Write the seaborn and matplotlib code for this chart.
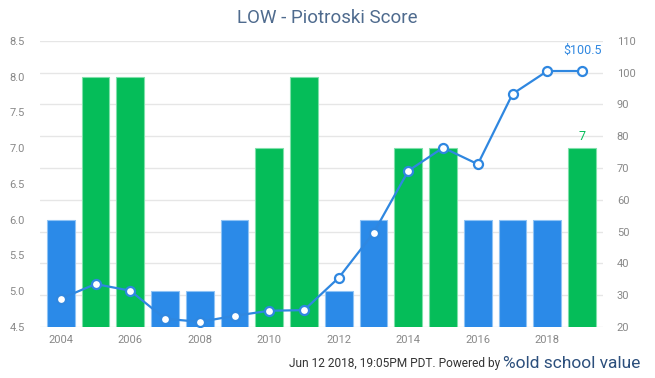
import numpy as np
import pandas as pd
import matplotlib
matplotlib.use('Agg')
import matplotlib.pyplot as plt
import seaborn as sns

# Data
years = list(range(2004, 2020))
scores = [6, 8, 8, 5, 5, 6, 7, 8, 5, 6, 7, 7, 6, 6, 6, 7]
prices = [28.9, 33.5, 31.4, 22.6, 21.6, 23.5, 25.1, 25.3,
          35.5, 49.6, 69.1, 76.4, 71.2, 93.3, 100.5, 100.5]
xtick_labels = [str(y) if y % 2 == 0 else '' for y in years]

blue = '#2b8ae8'
green = '#05bd59'
line_blue = '#2f87e0'
grey = '#888888'

sns.set_theme(style='white')
plt.rcParams['font.family'] = ['Roboto', 'DejaVu Sans']

data = pd.DataFrame({'Year': [str(y) for y in years], 'Score': scores, 'Price': prices})
bar_colors = [green if s >= 7 else blue for s in scores]

fig = plt.figure(figsize=(6.55, 3.78), dpi=100)
ax = fig.add_axes([0.061, 0.135, 0.8595, 0.757])

# background axis only for the grid (right scale)
ax_bg = ax.twinx()
ax_bg.set_ylim(20, 110)
ax_bg.set_yticks(range(20, 111, 10))
ax_bg.yaxis.grid(True, color='#e6e6e6', linewidth=1)
ax_bg.tick_params(right=False, labelright=False)
for s in ax_bg.spines.values():
    s.set_visible(False)

# bars
sns.barplot(data=data, x='Year', y='Score', hue='Year', palette=bar_colors,
            legend=False, width=0.8, ax=ax, saturation=1, linewidth=0.8)
for patch, c in zip(ax.patches, bar_colors):
    patch.set_edgecolor('#8fc3f5' if c == blue else '#7fe0aa')
ax.set_ylim(4.5, 8.5)
ax.set_yticks(np.arange(4.5, 8.51, 0.5))
ax.set_yticklabels([f'{v:.1f}' for v in np.arange(4.5, 8.51, 0.5)])
ax.set_xlim(-0.6, 15.6)
ax.set_xticks(range(len(years)))
ax.set_xticklabels(xtick_labels)
ax.set_xlabel('')
ax.set_ylabel('')
ax.tick_params(axis='both', length=0, labelsize=8, colors=grey, pad=6)
ax.tick_params(axis='y', pad=11)
for s in ax.spines.values():
    s.set_visible(False)

# price line
ax2 = ax.twinx()
sns.lineplot(x=np.arange(len(years)), y=prices, ax=ax2, color=line_blue,
             linewidth=1.6, marker='o', markersize=6.5, markerfacecolor='white',
             markeredgecolor=line_blue, markeredgewidth=1.6)
ax2.set_ylim(20, 110)
ax2.set_yticks(range(20, 111, 10))
ax2.tick_params(axis='y', length=0, labelsize=8, colors=grey, pad=10)
ax2.set_ylabel('')
for s in ax2.spines.values():
    s.set_visible(False)

ax_bg.set_zorder(0)
ax.set_zorder(1)
ax.patch.set_visible(False)
ax2.set_zorder(2)
ax2.patch.set_visible(False)

# annotations
ax2.annotate(f'${prices[-1]}', (len(years) - 1, prices[-1]), xytext=(0, 10),
             textcoords='offset points', ha='center', va='bottom',
             color=line_blue, fontsize=9)
ax.annotate(f'{scores[-1]}', (len(years) - 1, scores[-1]), xytext=(0, 4),
            textcoords='offset points', ha='center', va='bottom',
            color=green, fontsize=9)

fig.text(0.5, 0.952, 'LOW - Piotroski Score', ha='center', va='center',
         fontsize=13.5, color='#4f6b8e')
fig.text(0.763, 0.022, 'Jun 12 2018, 19:05PM PDT. Powered by', ha='right',
         va='bottom', fontsize=8.6, color='#333333')
fig.text(0.768, 0.018, '%old school value', ha='left', va='bottom',
         fontsize=12.5, color='#2c4f7c')

fig.savefig('out.png', dpi=100)
plt.close(fig)
